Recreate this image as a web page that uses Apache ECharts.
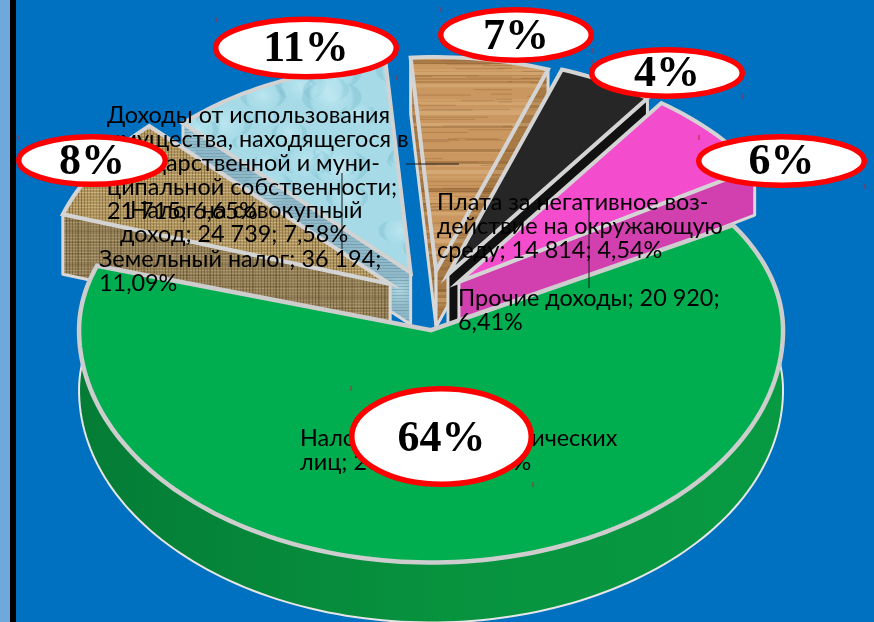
<!DOCTYPE html>
<html><head><meta charset="utf-8">
<style>html,body{margin:0;padding:0;background:#0070c0}#c{width:874px;height:622px}</style>
<script src="https://cdn.jsdelivr.net/npm/echarts@6/dist/echarts.min.js"></script>
</head><body><div id="c"></div>
<script>
// ---- data, clockwise from the right-hand edge of the large slice ----
const categories = ['Налог на доходы физических лиц','Налог на совокупный доход','Земельный налог',
  'Доходы от использования имущества, находящегося в государственной и муниципальной собственности',
  'Плата за негативное воздействие на окружающую среду','Прочие доходы'];
const values = [207984, 24739, 36194, 21715, 14814, 20920];
const bubbleLabels = ['64%','8%','11%','7%','4%','6%'];
const dataLabels = [
  'Налог на доходы физических\nлиц; 207 984; 63,73%',
  'Налог на совокупный\nдоход; 24 739; 7,58%',
  'Земельный налог; 36 194;\n11,09%',
  'Доходы от использования\nимущества, находящегося в\nгосударственной и муни-\nципальной собственности;\n21 715; 6,65%',
  'Плата за негативное воз-\nдействие на окружающую\nсреду; 14 814; 4,54%',
  'Прочие доходы; 20 920;\n6,41%'
];

// ---- layout / style (not data) ----
const START = -31, CX = 430, CY = 300;
const geom = [
  {r:352,k:.66,kBack:.58,ex:46,d:60,ox:-4},
  {r:345,k:.64,ex:47,d:60,ox:0},
  {r:326,k:.64,ex:47,d:52,ox:0},
  {r:334,k:.64,ex:46,d:56,ox:0},
  {r:340,k:.64,ex:45,d:54,ox:-3},
  {r:345,k:.64,ex:42,d:47,ox:-2}
];
const drawOrder = [2,3,4,5,1,0];
const labelPos = [
  {x:300,y:426},{x:[130,120],y:198},{x:99,y:247},
  {x:107,y:103},{x:437,y:190},{x:458,y:286}
];
const bubblePos = [
  {x:441.5,y:436.5,rx:92.5,ry:50.5,ty:440},{x:92,y:160.5,rx:76,ry:26.5,ty:163},{x:306,y:48,rx:93,ry:31.5,ty:50},
  {x:516,y:35,rx:78,ry:28,ty:38},{x:667,y:73,rx:78,ry:26,ty:75},{x:781.5,y:161,rx:85.5,ry:27,ty:163}
];
const leaders = [[406,164,459,164],[342,173,342,249],[589,208,589,288]];
const ticks = [[216,17],[397,75],[18,135],[441,7],[592,48],[592,60],[743,94],[699,135],[865,184],[351,386],[533,482]];
const LINE_H = 24.2;

// ---- procedural textures ----
function noise(i,j){const s=Math.sin(i*127.1+j*311.7)*43758.5453;return s-Math.floor(s);}
function mk(w,h,fn){const c=document.createElement('canvas');c.width=w;c.height=h;fn(c.getContext('2d'),w,h);return c;}
function woodTex(dark){return mk(256,128,(g,w,h)=>{
  g.fillStyle=dark?'#a87a45':'#c9975f';g.fillRect(0,0,w,h);
  for(let y=0;y<h;y+=3){const n=noise(y,3),m=noise(y,9);
    g.fillStyle=n>.72?'rgba(130,85,40,'+(.15+m*.3)+')':(n<.35?'rgba(235,200,155,'+(.1+m*.25)+')':'rgba(0,0,0,0)');
    g.fillRect(0,y,w,1+Math.floor(m*4));}
  for(let i=0;i<60;i++){g.fillStyle='rgba(120,75,35,.25)';g.fillRect(noise(i,1)*w,noise(i,2)*h,25+noise(i,4)*70,1);}
});}
function burlapTex(dark){return mk(66,66,(g,w,h)=>{
  g.fillStyle=dark?'#94805a':'#b0945e';g.fillRect(0,0,w,h);
  for(let y=0;y<h;y+=3){g.fillStyle=(dark?'rgba(190,170,120,':'rgba(222,200,150,')+(.3+noise(y,7)*.45)+')';g.fillRect(0,y,w,1);}
  for(let x=0;x<w;x+=3){g.fillStyle='rgba(95,75,40,'+(.25+noise(x,8)*.35)+')';g.fillRect(x,0,1,h);}
  if(dark){for(let y=0;y<h;y+=11){g.fillStyle='rgba(70,55,25,.25)';g.fillRect(0,y,w,1);}
           for(let x=0;x<w;x+=11){g.fillStyle='rgba(70,55,25,.25)';g.fillRect(x,0,1,h);}}
});}
function waterTex(dark){return mk(220,220,(g,w,h)=>{
  g.fillStyle=dark?'#8fb8c8':'#a6dae7';g.fillRect(0,0,w,h);
  for(let i=0;i<34;i++){const x=noise(i,11)*w,y=noise(i,12)*h,r=8+noise(i,13)*16;
    const gr=g.createRadialGradient(x,y,1,x,y,r);
    gr.addColorStop(0,'rgba(205,240,246,.5)');gr.addColorStop(.82,'rgba(180,228,238,.15)');gr.addColorStop(1,'rgba(110,180,200,.3)');
    g.fillStyle=gr;g.beginPath();g.ellipse(x,y,r*1.3,r*.75,0,0,7);g.fill();}
  if(dark){for(let y=0;y<h;y+=3){g.fillStyle='rgba(70,110,130,'+(.1+noise(y,5)*.25)+')';g.fillRect(0,y,w,1);}}
});}
const pat = c => ({image:c,repeat:'repeat'});
const greenWall={type:'linear',x:0,y:0,x2:1,y2:0,colorStops:[{offset:0,color:'#047c36'},{offset:.5,color:'#07923e'},{offset:1,color:'#089a43'}]};
const skins = [
  {top:'#00ae50',wall:greenWall,edge:'#cdcdcd',wallEdge:'#e6e6e6',tw:4.5,ww:2},
  {top:pat(burlapTex(false)),wall:pat(burlapTex(true)),edge:'#d4d4d4',wallEdge:'#d8d8d8',tw:4,ww:3},
  {top:pat(waterTex(false)),wall:pat(waterTex(true)),edge:'#d2d2d2',wallEdge:'#d8d8d8',tw:4,ww:3},
  {top:pat(woodTex(false)),wall:pat(woodTex(true)),edge:'#d4d4d4',wallEdge:'#d8d8d8',tw:4,ww:3},
  {top:'#262626',wall:'#111111',edge:'#d4d4d4',wallEdge:'#d8d8d8',tw:4,ww:3},
  {top:'#f34ccd',wall:'#d240b0',edge:'#d4d4d4',wallEdge:'#d8d8d8',tw:4,ww:3}
];

// ---- slice angles come from the values ----
const total = values.reduce((a,b)=>a+b,0);
const spans = []; { let a=START; values.forEach(v=>{const s=v/total*360;spans.push([a,a+s]);a+=s;}); }
const rad = d => d*Math.PI/180;
function sliceGeom(i){
  const g=geom[i],[a0,a1]=spans[i],mid=rad((a0+a1)/2);
  const ax=CX+g.ox+g.ex*Math.cos(mid), ay=CY+g.ex*Math.sin(mid)*g.k;
  const arc=[];const n=Math.max(12,Math.round((a1-a0)/1.5));
  for(let t=0;t<=n;t++){const d=rad(a0+(a1-a0)*t/n),sn=Math.sin(d);
    const ky=(sn<0&&g.kBack)?g.kBack:g.k;
    arc.push([ax+g.r*Math.cos(d),ay+g.r*ky*sn]);}
  return {apex:[ax,ay],arc,d:g.d,big:a1-a0>180};
}
const down=(p,d)=>[p[0],p[1]+d];
// a radial wall shows only when extruding downward leaves the slice's top face
function wallFaces(A,B,C){
  const ex=B[0]-A[0],ey=B[1]-A[1];
  return ex*(C[1]-A[1])-ey*(C[0]-A[0]) * 1, ex;
}
function radialVisible(A,B,C){
  const ex=B[0]-A[0],ey=B[1]-A[1];
  const crossDown=ex;                                   // (B-A) x (0,1)
  const crossOther=ex*(C[1]-A[1])-ey*(C[0]-A[0]);       // (B-A) x (C-A)
  return crossDown*crossOther<0;
}
function renderSlice(params,api){
  const i=api.value(0),s=sliceGeom(i),sk=skins[i],d=s.d,first=s.arc[0],last=s.arc[s.arc.length-1];
  const wall=pts=>({type:'polygon',shape:{points:pts},style:{fill:sk.wall,stroke:sk.wallEdge,lineWidth:sk.ww,lineJoin:'round'}});
  const children=[];
  if(s.big){ children.push(wall(s.arc.concat(s.arc.slice().reverse().map(p=>down(p,d))))); }
  else{
    if(radialVisible(s.apex,first,last)) children.push(wall([s.apex,first,down(first,d),down(s.apex,d)]));
    if(radialVisible(s.apex,last,first)) children.push(wall([s.apex,last,down(last,d),down(s.apex,d)]));
  }
  children.push({type:'polygon',shape:{points:[s.apex].concat(s.arc)},style:{fill:sk.top,stroke:sk.edge,lineWidth:sk.tw,lineJoin:'miter'}});
  return {type:'group',children};
}
function renderText(params,api){
  const i=api.value(0),p=labelPos[i];
  const base={fill:'#000',font:'23.4px Lato, "Noto Sans"',lineHeight:LINE_H,align:'left',verticalAlign:'top'};
  if(Array.isArray(p.x)){
    return {type:'group',children:dataLabels[i].split('\n').map((t,j)=>({type:'text',style:Object.assign({text:t,x:p.x[j],y:p.y+j*LINE_H},base)}))};
  }
  return {type:'text',style:Object.assign({text:dataLabels[i],x:p.x,y:p.y},base)};
}
function renderBubble(params,api){
  const i=api.value(0),b=bubblePos[i];
  return {type:'group',children:[
    {type:'ellipse',shape:{cx:b.x,cy:b.y,rx:b.rx-2.75,ry:b.ry-2.75},style:{fill:'#fff',stroke:'#ff0000',lineWidth:5.5}},
    {type:'text',style:{text:bubbleLabels[i],x:b.x,y:b.ty,fill:'#000',font:'bold 44px "Liberation Serif"',align:'center',verticalAlign:'middle'}}
  ]};
}
function renderLine(params,api){
  const l=leaders[api.value(0)];
  return {type:'line',shape:{x1:l[0],y1:l[1],x2:l[2],y2:l[3]},style:{stroke:'#1a1a1a',lineWidth:1}};
}
function renderTick(params,api){
  const t=ticks[api.value(0)];
  return {type:'line',shape:{x1:t[0],y1:t[1],x2:t[0],y2:t[1]+5},style:{stroke:'#b3263a',lineWidth:1}};
}
function renderStrip(params,api){
  return {type:'group',children:[
    {type:'rect',shape:{x:0,y:0,width:10,height:622},style:{fill:'#6fa9dc'}},
    {type:'rect',shape:{x:10,y:0,width:6,height:622},style:{fill:'#000'}}
  ]};
}
const idx = a => a.map((_,i)=>[i]);
const cust = (name,renderItem,data,z) => ({type:'custom',name,coordinateSystem:'none',renderItem,data,z,silent:true,animation:false,clip:false});
const chart = echarts.init(document.getElementById('c'),null,{renderer:'canvas'});
chart.setOption({
  animation:false,
  backgroundColor:'#0070c0',
  series:[
    cust('strip',renderStrip,[[0]],1),
    cust('slices',renderSlice,drawOrder.map(i=>({name:categories[i],value:[i,values[i]]})),2),
    cust('ticks',renderTick,idx(ticks),3),
    cust('leaders',renderLine,idx(leaders),3),
    cust('labels',renderText,idx(dataLabels),4),
    cust('bubbles',renderBubble,idx(bubbleLabels),5)
  ]
});
</script></body></html>
